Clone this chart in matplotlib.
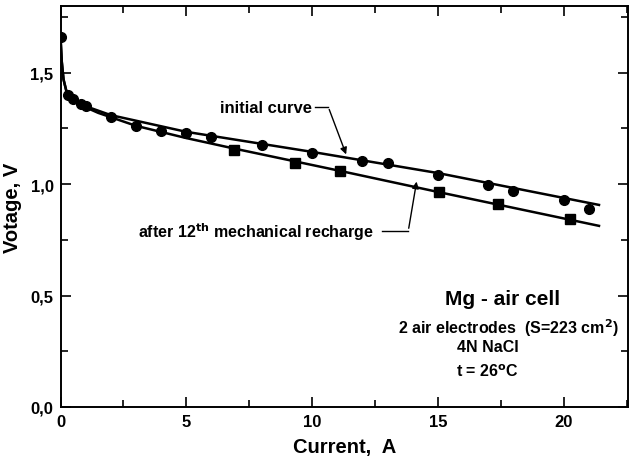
import matplotlib
matplotlib.use("Agg")
import matplotlib.pyplot as plt
from matplotlib.ticker import MultipleLocator, FuncFormatter

plt.rcParams['font.family'] = ['Liberation Sans', 'DejaVu Sans']
plt.rcParams['font.weight'] = 'bold'

# measured points, initial curve (circles)
init_current = [0.0, 0.3, 0.5, 0.8, 1.0, 2.0, 3.0, 4.0, 5.0, 6.0, 8.0, 10.0,
                12.0, 13.0, 15.0, 17.0, 18.0, 20.0, 21.0]
init_voltage = [1.66, 1.40, 1.383, 1.36, 1.35, 1.30, 1.26, 1.24, 1.23, 1.21, 1.176, 1.14,
                1.105, 1.096, 1.04, 0.995, 0.97, 0.93, 0.889]

# measured points after 12th mechanical recharge (squares)
rech_current = [6.9, 9.33, 11.1, 15.05, 17.4, 20.25]
rech_voltage = [1.155, 1.095, 1.059, 0.964, 0.911, 0.844]

# fitted curves, vertices
fit_init_x = [0.0, 0.05, 0.12, 0.25, 0.5, 1.0, 2.0, 5.0, 10.0, 15.0, 21.4]
fit_init_y = [1.66, 1.55, 1.47, 1.41, 1.38, 1.35, 1.31, 1.235, 1.145, 1.05, 0.907]
fit_rech_x = [0.0, 0.05, 0.12, 0.25, 0.5, 1.0, 1.5, 3.0, 5.0, 6.9, 11.1, 15.05, 21.4]
fit_rech_y = [1.66, 1.55, 1.47, 1.41, 1.38, 1.345, 1.32, 1.262, 1.207, 1.16, 1.06, 0.964, 0.813]

fig = plt.figure(figsize=(6.33, 4.64), dpi=100)
ax = fig.add_axes([0.0956, 0.1207, 0.8964, 0.8643])

ax.plot(fit_init_x, fit_init_y, color='black', lw=1.8)
ax.plot(fit_rech_x, fit_rech_y, color='black', lw=1.8)
ax.plot(init_current, init_voltage, 'o', color='black', ms=7)
ax.plot(rech_current, rech_voltage, 's', color='black', ms=7.5)

ax.set_xlim(0, 22.55)
ax.set_ylim(0, 1.8)
ax.xaxis.set_major_locator(MultipleLocator(5))
ax.xaxis.set_minor_locator(MultipleLocator(2.5))
ax.yaxis.set_major_locator(MultipleLocator(0.5))
ax.yaxis.set_minor_locator(MultipleLocator(0.25))
ax.yaxis.set_major_formatter(FuncFormatter(lambda v, p: f"{v:.1f}".replace('.', ',')))
ax.tick_params(which='both', direction='in', top=True, right=True, width=1.2,
               labelsize=12)
ax.tick_params(which='major', length=7, pad=5)
ax.tick_params(which='minor', length=5)
for s in ax.spines.values():
    s.set_linewidth(1.4)

ax.set_xlabel("Current,  A", fontsize=14.5, fontweight='bold', labelpad=6)
ax.set_ylabel("Votage, V", fontsize=14.5, fontweight='bold', labelpad=6)

# annotations
ax.text(10.0, 1.345, "initial curve", ha='right', va='center', fontsize=12)
ax.plot([10.1, 10.64], [1.347, 1.347], color='black', lw=1)
ax.annotate("", xy=(11.39, 1.122), xytext=(10.64, 1.347),
            arrowprops=dict(arrowstyle='-|>', color='black', lw=1, mutation_scale=10))
ax.text(12.45, 0.79, "after 12$^{\\mathbf{th}}$ mechanical recharge", ha='right', va='center',
        fontsize=11.5)
ax.plot([12.78, 13.82], [0.79, 0.79], color='black', lw=1)
ax.annotate("", xy=(14.17, 1.024), xytext=(13.82, 0.79),
            arrowprops=dict(arrowstyle='-|>', color='black', lw=1, mutation_scale=10))

ax.text(17.55, 0.485, "Mg - air cell", ha='center', va='center', fontsize=15)
ax.text(17.8, 0.36, "2 air electrodes  (S=223 cm$^{\\mathbf{2}}$)", ha='center', va='center',
        fontsize=11.5)
ax.text(17.0, 0.27, "4N NaCl", ha='center', va='center', fontsize=11.5)
ax.text(16.95, 0.162, "t = 26$^{\\mathbf{o}}$C", ha='center', va='center', fontsize=11.5)

fig.savefig("out.png", dpi=100)
